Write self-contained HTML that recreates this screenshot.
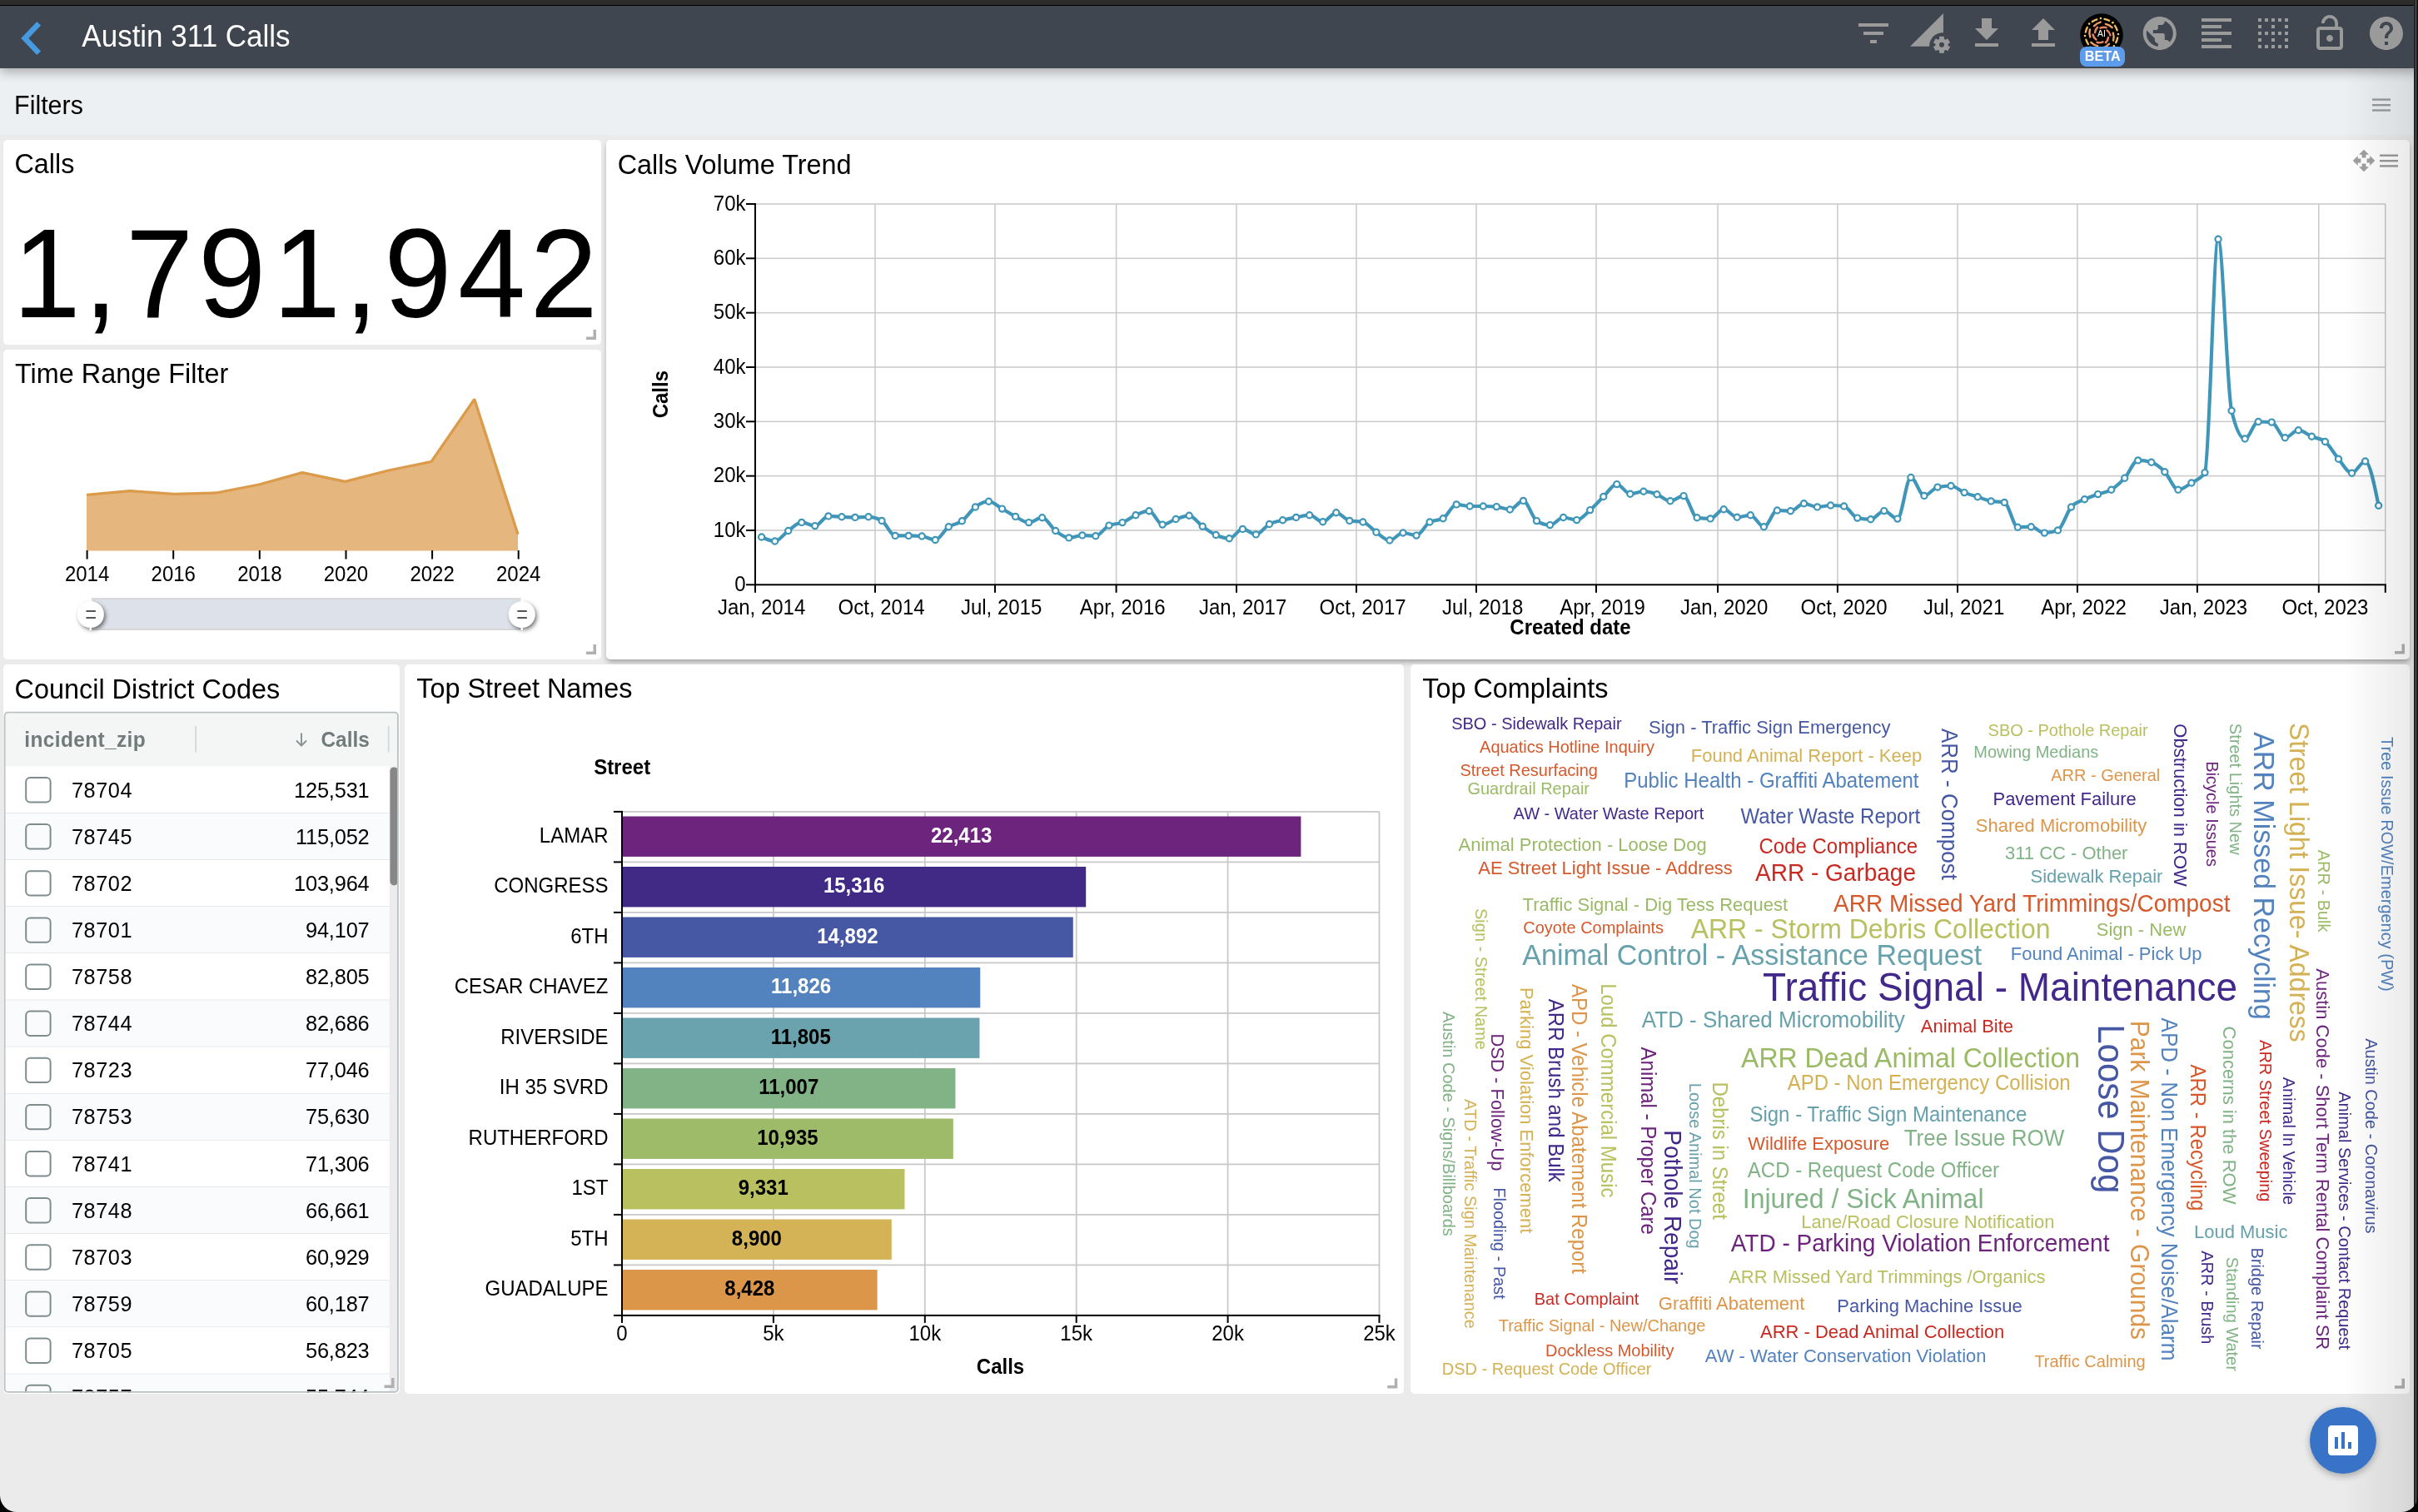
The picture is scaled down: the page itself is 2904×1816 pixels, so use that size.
<!DOCTYPE html><html><head><meta charset="utf-8"><title>Austin 311 Calls</title><style>
*{box-sizing:border-box;margin:0;padding:0}
html,body{width:2904px;height:1816px;overflow:hidden;background:#ebebeb;font-family:"Liberation Sans", sans-serif}
.abs{position:absolute}
.card{position:absolute;background:#fff;border-radius:5px}
svg text{font-family:"Liberation Sans", sans-serif}
</style></head><body>
<div class="abs" style="left:0;top:0;width:2904px;height:7px;background:#2f2c2d;border-bottom:1px solid #000"></div>
<div class="abs" style="left:0;top:82px;width:2904px;height:80px;background:#edf0f3"></div>
<div class="abs" style="left:0;top:7px;width:2904px;height:75px;background:#3f4650;box-shadow:0 5px 12px rgba(0,0,0,0.28)"></div>
<div class="card" style="left:4px;top:168px;width:718px;height:246px"></div>
<div class="card" style="left:4px;top:420px;width:718px;height:372px"></div>
<div class="card" style="left:728px;top:168px;width:2166px;height:624px;box-shadow:0 4px 6px -1px rgba(0,0,0,0.32)"></div>
<div class="card" style="left:4px;top:798px;width:476px;height:875.5999999999999px"></div>
<div class="card" style="left:486px;top:798px;width:1200px;height:875.5999999999999px"></div>
<div class="card" style="left:1694.4px;top:798px;width:1199.6px;height:875.5999999999999px"></div>
<svg class="abs" style="left:0;top:0;will-change:transform" width="2904" height="1816" xmlns="http://www.w3.org/2000/svg">
<polyline points="46.7,28.2 29.8,46 46.7,63.8" fill="none" stroke="#469be0" stroke-width="6.6" stroke-linecap="butt" stroke-linejoin="miter"/>
<text transform="translate(98.33,56.00) scale(1,1.042)" font-size="35" fill="#fff">Austin 311 Calls</text>
<path transform="translate(2226,16) scale(2)" d="M10 18h4v-2h-4v2zM3 6v2h18V6H3zm3 7h12v-2H6v2z" fill="#9a9a9a"/>
<path d="M2294.1,55.8 L2334,16 L2334,39.2 A16,16 0 0 0 2317.1,55.8 Z" fill="#9a9a9a"/>
<g><rect x="2329.1" y="43.8" width="5.8" height="6" transform="rotate(0 2332 53.8)" fill="#9a9a9a"/><rect x="2329.1" y="43.8" width="5.8" height="6" transform="rotate(60 2332 53.8)" fill="#9a9a9a"/><rect x="2329.1" y="43.8" width="5.8" height="6" transform="rotate(120 2332 53.8)" fill="#9a9a9a"/><rect x="2329.1" y="43.8" width="5.8" height="6" transform="rotate(180 2332 53.8)" fill="#9a9a9a"/><rect x="2329.1" y="43.8" width="5.8" height="6" transform="rotate(240 2332 53.8)" fill="#9a9a9a"/><rect x="2329.1" y="43.8" width="5.8" height="6" transform="rotate(300 2332 53.8)" fill="#9a9a9a"/><circle cx="2332" cy="53.8" r="7.6" fill="#9a9a9a"/><circle cx="2332" cy="53.8" r="3" fill="#3f4650"/></g>
<path transform="translate(2362,16) scale(2)" d="M19 9h-4V3H9v6H5l7 7 7-7zM5 18v2h14v-2H5z" fill="#9a9a9a"/>
<path transform="translate(2430,16) scale(2)" d="M9 16h6v-6h4l-7-7-7 7h4v6zm-4 2h14v2H5v-2z" fill="#9a9a9a"/>
<circle cx="2524" cy="42" r="25.8" fill="#000"/>
<g><path d="M2522.52,33.63 A9.50,9.50 0 0 1 2529.56,33.10" stroke="#e8845f" stroke-width="2.5" fill="none" stroke-linecap="round"/><path d="M2530.51,36.54 A9.50,9.50 0 0 1 2534.49,42.37" stroke="#e8845f" stroke-width="2.5" fill="none" stroke-linecap="round"/><path d="M2531.99,44.91 A9.50,9.50 0 0 1 2528.93,51.27" stroke="#e8845f" stroke-width="2.5" fill="none" stroke-linecap="round"/><path d="M2525.48,50.37 A9.50,9.50 0 0 1 2518.44,50.90" stroke="#e8845f" stroke-width="2.5" fill="none" stroke-linecap="round"/><path d="M2517.49,47.46 A9.50,9.50 0 0 1 2513.51,41.63" stroke="#e8845f" stroke-width="2.5" fill="none" stroke-linecap="round"/><path d="M2516.01,39.09 A9.50,9.50 0 0 1 2519.07,32.73" stroke="#e8845f" stroke-width="2.5" fill="none" stroke-linecap="round"/><path d="M2528.79,28.84 A14.75,14.75 0 0 1 2536.70,33.11" stroke="#eda066" stroke-width="2.4" fill="none" stroke-linecap="round"/><path d="M2537.79,39.57 A14.75,14.75 0 0 1 2538.05,48.55" stroke="#eda066" stroke-width="2.4" fill="none" stroke-linecap="round"/><path d="M2533.00,52.72 A14.75,14.75 0 0 1 2525.35,57.44" stroke="#eda066" stroke-width="2.4" fill="none" stroke-linecap="round"/><path d="M2519.21,55.16 A14.75,14.75 0 0 1 2511.30,50.89" stroke="#eda066" stroke-width="2.4" fill="none" stroke-linecap="round"/><path d="M2510.21,44.43 A14.75,14.75 0 0 1 2509.95,35.45" stroke="#eda066" stroke-width="2.4" fill="none" stroke-linecap="round"/><path d="M2515.00,31.28 A14.75,14.75 0 0 1 2522.65,26.56" stroke="#eda066" stroke-width="2.4" fill="none" stroke-linecap="round"/><path d="M2527.39,22.80 A19.50,19.50 0 0 1 2533.15,24.78" stroke="#f2bd69" stroke-width="2.3" fill="none" stroke-linecap="round"/><circle cx="2537.38" cy="27.14" r="1.3" fill="#f5c96e"/><path d="M2539.97,30.82 A19.50,19.50 0 0 1 2542.65,36.30" stroke="#f2bd69" stroke-width="2.3" fill="none" stroke-linecap="round"/><circle cx="2543.97" cy="40.95" r="1.3" fill="#f5c96e"/><path d="M2543.20,45.39 A19.50,19.50 0 0 1 2541.22,51.15" stroke="#f2bd69" stroke-width="2.3" fill="none" stroke-linecap="round"/><circle cx="2538.86" cy="55.38" r="1.3" fill="#f5c96e"/><path d="M2535.18,57.97 A19.50,19.50 0 0 1 2529.70,60.65" stroke="#f2bd69" stroke-width="2.3" fill="none" stroke-linecap="round"/><circle cx="2525.05" cy="61.97" r="1.3" fill="#f5c96e"/><path d="M2520.61,61.20 A19.50,19.50 0 0 1 2514.85,59.22" stroke="#f2bd69" stroke-width="2.3" fill="none" stroke-linecap="round"/><circle cx="2510.62" cy="56.86" r="1.3" fill="#f5c96e"/><path d="M2508.03,53.18 A19.50,19.50 0 0 1 2505.35,47.70" stroke="#f2bd69" stroke-width="2.3" fill="none" stroke-linecap="round"/><circle cx="2504.03" cy="43.05" r="1.3" fill="#f5c96e"/><path d="M2504.80,38.61 A19.50,19.50 0 0 1 2506.78,32.85" stroke="#f2bd69" stroke-width="2.3" fill="none" stroke-linecap="round"/><circle cx="2509.14" cy="28.62" r="1.3" fill="#f5c96e"/><path d="M2512.82,26.03 A19.50,19.50 0 0 1 2518.30,23.35" stroke="#f2bd69" stroke-width="2.3" fill="none" stroke-linecap="round"/><circle cx="2522.95" cy="22.03" r="1.3" fill="#f5c96e"/></g>
<text transform="translate(2524.00,44.20) scale(1,1.042)" font-size="10.5" fill="#fff" text-anchor="middle">AI</text>
<rect x="2498" y="56" width="54" height="24" rx="8" fill="#5d9bec"/>
<text transform="translate(2525.30,72.80) scale(1,1.042)" font-size="16.2" fill="#fff" font-weight="bold" text-anchor="middle">BETA</text>
<path transform="translate(2569.8,16) scale(2)" d="M12 2C6.48 2 2 6.48 2 12s4.48 10 10 10 10-4.48 10-10S17.52 2 12 2zm-1 17.93c-3.95-.49-7-3.850-7-7.93 0-.62.08-1.21.21-1.79L9 15v1c0 1.1.9 2 2 2v1.93zm6.9-2.54c-.26-.81-1-1.39-1.9-1.39h-1v-3c0-.55-.45-1-1-1H8v-2h2c.55 0 1-.45 1-1V7h2c1.1 0 2-.9 2-2v-.41c2.930 1.19 5 4.06 5 7.41 0 2.080-.8 3.970-2.1 5.39z" fill="#9a9a9a"/>
<path transform="translate(2638,16) scale(2)" d="M15 15H3v2h12v-2zm0-8H3v2h12V7zM3 13h18v-2H3v2zm0 8h18v-2H3v2zM3 3v2h18V3H3z" fill="#9a9a9a"/>
<path transform="translate(2706,16) scale(2)" d="M7 5h2V3H7v2zm0 8h2v-2H7v2zm0 8h2v-2H7v2zm4-4h2v-2h-2v2zm0 4h2v-2h-2v2zm-8 0h2v-2H3v2zm0-4h2v-2H3v2zm0-4h2v-2H3v2zm0-4h2V7H3v2zm0-4h2V3H3v2zm8 8h2v-2h-2v2zm8 4h2v-2h-2v2zm0-4h2v-2h-2v2zm0 8h2v-2h-2v2zm0-12h2V7h-2v2zm-8 0h2V7h-2v2zm8-6v2h2V3h-2zm-8 2h2V3h-2v2zm4 16h2v-2h-2v2zm0-8h2v-2h-2v2zm0-8h2V3h-2v2z" fill="#9a9a9a"/>
<path transform="translate(2774,16) scale(2)" d="M12 17c1.1 0 2-.9 2-2s-.9-2-2-2-2 .9-2 2 .9 2 2 2zm6-9h-1V6c0-2.76-2.24-5-5-5S7 3.24 7 6h1.9c0-1.71 1.39-3.1 3.1-3.1 1.71 0 3.1 1.39 3.1 3.1v2H6c-1.1 0-2 .9-2 2v10c0 1.1.9 2 2 2h12c1.1 0 2-.9 2-2V10c0-1.1-.9-2-2-2zm0 12H6V10h12v10z" fill="#9a9a9a"/>
<path transform="translate(2842,16) scale(2)" d="M12 2C6.48 2 2 6.48 2 12s4.48 10 10 10 10-4.48 10-10S17.52 2 12 2zm1 17h-2v-2h2v2zm2.07-7.75l-.9.92C13.45 12.9 13 13.5 13 15h-2v-.5c0-1.1.45-2.1 1.17-2.83l1.24-1.26c.37-.36.59-.86.59-1.41 0-1.1-.9-2-2-2s-2 .9-2 2H8c0-2.21 1.79-4 4-4s4 1.79 4 4c0 .88-.36 1.68-.93 2.25z" fill="#9a9a9a"/>
<text transform="translate(17.11,137.00) scale(1,1.042)" font-size="30.4" fill="#000">Filters</text>
<rect x="2849" y="118.4" width="22" height="2.4" fill="#9b9b9b"/>
<rect x="2849" y="125" width="22" height="2.4" fill="#9b9b9b"/>
<rect x="2849" y="131.3" width="22" height="2.4" fill="#9b9b9b"/>
<text transform="translate(17.38,208.00) scale(1,1.042)" font-size="32.4" fill="#000">Calls</text>
<text transform="translate(17.99,460.00) scale(1,1.042)" font-size="32.4" fill="#000">Time Range Filter</text>
<text transform="translate(741.68,208.50) scale(1,1.042)" font-size="32.4" fill="#000">Calls Volume Trend</text>
<text transform="translate(17.58,838.50) scale(1,1.042)" font-size="32.4" fill="#000">Council District Codes</text>
<text transform="translate(500.29,838.20) scale(1,1.042)" font-size="32.4" fill="#000">Top Street Names</text>
<text transform="translate(1708.19,838.00) scale(1,1.042)" font-size="32.4" fill="#000">Top Complaints</text>
<path transform="translate(2824.6,178.6) scale(1.2)" d="M10 9h4V6h3l-5-5-5 5h3v3zm-1 1H6V7l-5 5 5 5v-3h3v-4zm14 2l-5-5v3h-3v4h3v3l5-5zm-9 3h-4v3H7l5 5 5-5h-3v-3z" fill="#a0a0a0"/>
<rect x="2858" y="185.5" width="22" height="2.4" fill="#9b9b9b"/>
<rect x="2858" y="192" width="22" height="2.4" fill="#9b9b9b"/>
<rect x="2858" y="198.2" width="22" height="2.4" fill="#9b9b9b"/>
<text transform="translate(15.62,380.90) scale(1,1.042)" font-size="146" fill="#000">1</text>
<text transform="translate(100.78,380.90) scale(1,1.042)" font-size="146" fill="#000">,</text>
<text transform="translate(150.94,380.90) scale(1,1.042)" font-size="146" fill="#000">7</text>
<text transform="translate(237.99,380.90) scale(1,1.042)" font-size="146" fill="#000">9</text>
<text transform="translate(327.77,380.90) scale(1,1.042)" font-size="146" fill="#000">1</text>
<text transform="translate(413.48,380.90) scale(1,1.042)" font-size="146" fill="#000">,</text>
<text transform="translate(461.19,380.90) scale(1,1.042)" font-size="146" fill="#000">9</text>
<text transform="translate(549.92,380.90) scale(1,1.042)" font-size="146" fill="#000">4</text>
<text transform="translate(636.41,380.90) scale(1,1.042)" font-size="146" fill="#000">2</text>
<path d="M104,661.6 L104.0,594.3 L156.0,589.7 L209.0,593.4 L259.5,592.0 L311.0,582.0 L363.0,567.7 L414.6,578.4 L466.6,565.0 L518.0,554.5 L569.8,479.5 L622.0,641.7 L622,661.6 Z" fill="#e5b67e"/>
<path d="M104.0,594.3 L156.0,589.7 L209.0,593.4 L259.5,592.0 L311.0,582.0 L363.0,567.7 L414.6,578.4 L466.6,565.0 L518.0,554.5 L569.8,479.5 L622.0,641.7" fill="none" stroke="#dc9b4b" stroke-width="3.3" stroke-linejoin="bevel"/>
<rect x="103.6" y="661" width="2" height="10.5" fill="#000"/>
<text transform="translate(104.60,697.70) scale(1,1.042)" font-size="24" fill="#000" text-anchor="middle">2014</text>
<rect x="207.2" y="661" width="2" height="10.5" fill="#000"/>
<text transform="translate(208.22,697.70) scale(1,1.042)" font-size="24" fill="#000" text-anchor="middle">2016</text>
<rect x="310.8" y="661" width="2" height="10.5" fill="#000"/>
<text transform="translate(311.84,697.70) scale(1,1.042)" font-size="24" fill="#000" text-anchor="middle">2018</text>
<rect x="414.5" y="661" width="2" height="10.5" fill="#000"/>
<text transform="translate(415.46,697.70) scale(1,1.042)" font-size="24" fill="#000" text-anchor="middle">2020</text>
<rect x="518.1" y="661" width="2" height="10.5" fill="#000"/>
<text transform="translate(519.08,697.70) scale(1,1.042)" font-size="24" fill="#000" text-anchor="middle">2022</text>
<rect x="621.7" y="661" width="2" height="10.5" fill="#000"/>
<text transform="translate(622.70,697.70) scale(1,1.042)" font-size="24" fill="#000" text-anchor="middle">2024</text>
<rect x="109" y="718.3" width="517.7" height="38.6" fill="#dde1e9"/>
<rect x="109" y="718.3" width="517.7" height="1.8" fill="#d6d6d6"/>
<rect x="109" y="755.1" width="517.7" height="1.8" fill="#d6d6d6"/>
<defs><filter id="hs" x="-50%" y="-50%" width="200%" height="200%"><feDropShadow dx="2" dy="2.5" stdDeviation="2.6" flood-color="#000" flood-opacity="0.55"/></filter></defs>
<circle cx="108.8" cy="738.1" r="15.9" fill="#fff" filter="url(#hs)"/>
<rect x="107.6" y="718.3" width="2.4" height="38.6" fill="#fff"/>
<rect x="103.5" y="733" width="11.4" height="2" fill="#555"/>
<rect x="103.5" y="741" width="11.4" height="2" fill="#555"/>
<circle cx="626.7" cy="738.1" r="15.9" fill="#fff" filter="url(#hs)"/>
<rect x="625.5" y="718.3" width="2.4" height="38.6" fill="#fff"/>
<rect x="621.4000000000001" y="733" width="11.4" height="2" fill="#555"/>
<rect x="621.4000000000001" y="741" width="11.4" height="2" fill="#555"/>
<rect x="896" y="701.30" width="11" height="2" fill="#000"/>
<text transform="translate(895.50,709.90) scale(1,1.042)" font-size="24" fill="#000" text-anchor="end">0</text>
<rect x="907.0" y="636.22" width="1957.8" height="1.5" fill="#c9c9c9"/>
<rect x="896" y="635.97" width="11" height="2" fill="#000"/>
<text transform="translate(895.50,644.57) scale(1,1.042)" font-size="24" fill="#000" text-anchor="end">10k</text>
<rect x="907.0" y="570.89" width="1957.8" height="1.5" fill="#c9c9c9"/>
<rect x="896" y="570.64" width="11" height="2" fill="#000"/>
<text transform="translate(895.50,579.24) scale(1,1.042)" font-size="24" fill="#000" text-anchor="end">20k</text>
<rect x="907.0" y="505.56" width="1957.8" height="1.5" fill="#c9c9c9"/>
<rect x="896" y="505.31" width="11" height="2" fill="#000"/>
<text transform="translate(895.50,513.91) scale(1,1.042)" font-size="24" fill="#000" text-anchor="end">30k</text>
<rect x="907.0" y="440.23" width="1957.8" height="1.5" fill="#c9c9c9"/>
<rect x="896" y="439.98" width="11" height="2" fill="#000"/>
<text transform="translate(895.50,448.58) scale(1,1.042)" font-size="24" fill="#000" text-anchor="end">40k</text>
<rect x="907.0" y="374.90" width="1957.8" height="1.5" fill="#c9c9c9"/>
<rect x="896" y="374.65" width="11" height="2" fill="#000"/>
<text transform="translate(895.50,383.25) scale(1,1.042)" font-size="24" fill="#000" text-anchor="end">50k</text>
<rect x="907.0" y="309.57" width="1957.8" height="1.5" fill="#c9c9c9"/>
<rect x="896" y="309.32" width="11" height="2" fill="#000"/>
<text transform="translate(895.50,317.92) scale(1,1.042)" font-size="24" fill="#000" text-anchor="end">60k</text>
<rect x="907.0" y="244.24" width="1957.8" height="1.5" fill="#c9c9c9"/>
<rect x="896" y="243.99" width="11" height="2" fill="#000"/>
<text transform="translate(895.50,252.59) scale(1,1.042)" font-size="24" fill="#000" text-anchor="end">70k</text>
<rect x="906.00" y="702.3" width="2" height="9.5" fill="#000"/>
<text transform="translate(914.60,738.00) scale(1,1.042)" font-size="24" fill="#000" text-anchor="middle">Jan, 2014</text>
<rect x="1050.25" y="244.99" width="1.5" height="457.31" fill="#c9c9c9"/>
<rect x="1050.00" y="702.3" width="2" height="9.5" fill="#000"/>
<text transform="translate(1058.60,738.00) scale(1,1.042)" font-size="24" fill="#000" text-anchor="middle">Oct, 2014</text>
<rect x="1194.25" y="244.99" width="1.5" height="457.31" fill="#c9c9c9"/>
<rect x="1194.00" y="702.3" width="2" height="9.5" fill="#000"/>
<text transform="translate(1202.60,738.00) scale(1,1.042)" font-size="24" fill="#000" text-anchor="middle">Jul, 2015</text>
<rect x="1339.85" y="244.99" width="1.5" height="457.31" fill="#c9c9c9"/>
<rect x="1339.60" y="702.3" width="2" height="9.5" fill="#000"/>
<text transform="translate(1348.20,738.00) scale(1,1.042)" font-size="24" fill="#000" text-anchor="middle">Apr, 2016</text>
<rect x="1484.25" y="244.99" width="1.5" height="457.31" fill="#c9c9c9"/>
<rect x="1484.00" y="702.3" width="2" height="9.5" fill="#000"/>
<text transform="translate(1492.60,738.00) scale(1,1.042)" font-size="24" fill="#000" text-anchor="middle">Jan, 2017</text>
<rect x="1628.25" y="244.99" width="1.5" height="457.31" fill="#c9c9c9"/>
<rect x="1628.00" y="702.3" width="2" height="9.5" fill="#000"/>
<text transform="translate(1636.60,738.00) scale(1,1.042)" font-size="24" fill="#000" text-anchor="middle">Oct, 2017</text>
<rect x="1772.25" y="244.99" width="1.5" height="457.31" fill="#c9c9c9"/>
<rect x="1772.00" y="702.3" width="2" height="9.5" fill="#000"/>
<text transform="translate(1780.60,738.00) scale(1,1.042)" font-size="24" fill="#000" text-anchor="middle">Jul, 2018</text>
<rect x="1916.25" y="244.99" width="1.5" height="457.31" fill="#c9c9c9"/>
<rect x="1916.00" y="702.3" width="2" height="9.5" fill="#000"/>
<text transform="translate(1924.60,738.00) scale(1,1.042)" font-size="24" fill="#000" text-anchor="middle">Apr, 2019</text>
<rect x="2062.25" y="244.99" width="1.5" height="457.31" fill="#c9c9c9"/>
<rect x="2062.00" y="702.3" width="2" height="9.5" fill="#000"/>
<text transform="translate(2070.60,738.00) scale(1,1.042)" font-size="24" fill="#000" text-anchor="middle">Jan, 2020</text>
<rect x="2206.15" y="244.99" width="1.5" height="457.31" fill="#c9c9c9"/>
<rect x="2205.90" y="702.3" width="2" height="9.5" fill="#000"/>
<text transform="translate(2214.50,738.00) scale(1,1.042)" font-size="24" fill="#000" text-anchor="middle">Oct, 2020</text>
<rect x="2350.25" y="244.99" width="1.5" height="457.31" fill="#c9c9c9"/>
<rect x="2350.00" y="702.3" width="2" height="9.5" fill="#000"/>
<text transform="translate(2358.60,738.00) scale(1,1.042)" font-size="24" fill="#000" text-anchor="middle">Jul, 2021</text>
<rect x="2494.15" y="244.99" width="1.5" height="457.31" fill="#c9c9c9"/>
<rect x="2493.90" y="702.3" width="2" height="9.5" fill="#000"/>
<text transform="translate(2502.50,738.00) scale(1,1.042)" font-size="24" fill="#000" text-anchor="middle">Apr, 2022</text>
<rect x="2638.15" y="244.99" width="1.5" height="457.31" fill="#c9c9c9"/>
<rect x="2637.90" y="702.3" width="2" height="9.5" fill="#000"/>
<text transform="translate(2646.50,738.00) scale(1,1.042)" font-size="24" fill="#000" text-anchor="middle">Jan, 2023</text>
<rect x="2784.05" y="244.99" width="1.5" height="457.31" fill="#c9c9c9"/>
<rect x="2783.80" y="702.3" width="2" height="9.5" fill="#000"/>
<text transform="translate(2792.40,738.00) scale(1,1.042)" font-size="24" fill="#000" text-anchor="middle">Oct, 2023</text>
<rect x="2864.05" y="244.99" width="1.5" height="457.31" fill="#c9c9c9"/>
<rect x="2863.80" y="702.3" width="2" height="9.5" fill="#000"/>
<rect x="906.0" y="243.99" width="2" height="458.81" fill="#000"/>
<rect x="906.0" y="701.30" width="1959.8" height="2" fill="#000"/>
<text transform="translate(1886.00,761.70) scale(1,1.042)" font-size="24" fill="#000" font-weight="bold" text-anchor="middle">Created date</text>
<text transform="translate(801.8,473.7) rotate(-90) scale(1,1.042)" x="0" y="0" font-size="24" font-weight="bold" text-anchor="middle" fill="#000">Calls</text>
<path d="M914.60,645.00 C919.95,647.50 925.30,650.00 930.65,650.00 C936.00,650.00 941.35,641.27 946.70,637.50 C952.05,633.73 957.40,627.40 962.75,627.40 C968.10,627.40 973.45,631.60 978.80,631.60 C984.15,631.60 989.50,619.90 994.85,619.90 C1000.20,619.90 1005.55,620.55 1010.90,620.80 C1016.25,621.05 1021.60,621.40 1026.95,621.40 C1032.30,621.40 1037.65,620.80 1043.00,620.80 C1048.35,620.80 1053.70,622.33 1059.05,625.40 C1064.40,628.47 1069.75,643.40 1075.10,643.40 C1080.45,643.40 1085.80,643.40 1091.15,643.40 C1096.50,643.40 1101.85,643.60 1107.20,644.00 C1112.55,644.40 1117.90,648.50 1123.25,648.50 C1128.60,648.50 1133.95,636.58 1139.30,632.80 C1144.65,629.02 1150.00,629.77 1155.35,625.80 C1160.70,621.83 1166.05,612.93 1171.40,609.00 C1176.75,605.07 1182.10,602.20 1187.45,602.20 C1192.80,602.20 1198.15,608.07 1203.50,611.10 C1208.85,614.13 1214.20,617.65 1219.55,620.40 C1224.90,623.15 1230.25,627.60 1235.60,627.60 C1240.95,627.60 1246.30,621.70 1251.65,621.70 C1257.00,621.70 1262.35,633.47 1267.70,637.50 C1273.05,641.53 1278.40,645.90 1283.75,645.90 C1289.10,645.90 1294.45,642.90 1299.80,642.90 C1305.15,642.90 1310.50,643.70 1315.85,643.70 C1321.20,643.70 1326.55,633.43 1331.90,631.10 C1337.25,628.77 1342.60,629.67 1347.95,627.60 C1353.30,625.53 1358.65,621.02 1364.00,618.70 C1369.35,616.38 1374.70,613.70 1380.05,613.70 C1385.40,613.70 1390.75,630.10 1396.10,630.10 C1401.45,630.10 1406.80,625.30 1412.15,623.50 C1417.50,621.70 1422.85,619.30 1428.20,619.30 C1433.55,619.30 1438.90,628.43 1444.25,632.30 C1449.60,636.17 1454.95,640.08 1460.30,642.50 C1465.65,644.92 1471.00,646.80 1476.35,646.80 C1481.70,646.80 1487.05,635.40 1492.40,635.40 C1497.75,635.40 1503.10,641.90 1508.45,641.90 C1513.80,641.90 1519.15,632.35 1524.50,629.50 C1529.85,626.65 1535.20,626.15 1540.55,624.80 C1545.90,623.45 1551.25,622.42 1556.60,621.40 C1561.95,620.38 1567.30,618.70 1572.65,618.70 C1578.00,618.70 1583.35,626.70 1588.70,626.70 C1594.05,626.70 1599.40,615.80 1604.75,615.80 C1610.10,615.80 1615.45,624.33 1620.80,625.40 C1626.15,626.47 1631.50,625.93 1636.85,627.00 C1642.20,628.07 1647.55,635.53 1652.90,639.20 C1658.25,642.87 1663.60,649.00 1668.95,649.00 C1674.30,649.00 1679.65,640.00 1685.00,640.00 C1690.35,640.00 1695.70,643.10 1701.05,643.10 C1706.40,643.10 1711.75,629.87 1717.10,627.00 C1722.45,624.13 1727.80,625.57 1733.15,622.70 C1738.50,619.83 1743.85,605.90 1749.20,605.90 C1754.55,605.90 1759.90,608.00 1765.25,608.00 C1770.60,608.00 1775.95,608.00 1781.30,608.00 C1786.65,608.00 1792.00,608.20 1797.35,608.60 C1802.70,609.00 1808.05,612.00 1813.40,612.00 C1818.75,612.00 1824.10,601.40 1829.45,601.40 C1834.80,601.40 1840.15,622.27 1845.50,625.60 C1850.85,628.93 1856.20,630.60 1861.55,630.60 C1866.90,630.60 1872.25,621.50 1877.60,621.50 C1882.95,621.50 1888.30,624.60 1893.65,624.60 C1899.00,624.60 1904.35,617.28 1909.70,612.60 C1915.05,607.92 1920.40,601.67 1925.75,596.50 C1931.10,591.33 1936.45,581.60 1941.80,581.60 C1947.15,581.60 1952.50,593.30 1957.85,593.30 C1963.20,593.30 1968.55,590.20 1973.90,590.20 C1979.25,590.20 1984.60,591.78 1989.95,593.70 C1995.30,595.62 2000.65,601.70 2006.00,601.70 C2011.35,601.70 2016.70,595.60 2022.05,595.60 C2027.40,595.60 2032.75,621.07 2038.10,621.80 C2043.45,622.53 2048.80,622.90 2054.15,622.90 C2059.50,622.90 2064.85,611.70 2070.20,611.70 C2075.55,611.70 2080.90,621.30 2086.25,621.30 C2091.60,621.30 2096.95,618.80 2102.30,618.80 C2107.65,618.80 2113.00,632.80 2118.35,632.80 C2123.70,632.80 2129.05,613.00 2134.40,613.00 C2139.75,613.00 2145.10,613.80 2150.45,613.80 C2155.80,613.80 2161.15,604.80 2166.50,604.80 C2171.85,604.80 2177.20,608.90 2182.55,608.90 C2187.90,608.90 2193.25,607.00 2198.60,607.00 C2203.95,607.00 2209.30,607.33 2214.65,608.00 C2220.00,608.67 2225.35,621.03 2230.70,622.10 C2236.05,623.17 2241.40,623.70 2246.75,623.70 C2252.10,623.70 2257.45,613.60 2262.80,613.60 C2268.15,613.60 2273.50,623.10 2278.85,623.10 C2284.20,623.10 2289.55,573.50 2294.90,573.50 C2300.25,573.50 2305.60,595.40 2310.95,595.40 C2316.30,595.40 2321.65,586.17 2327.00,585.10 C2332.35,584.03 2337.70,583.50 2343.05,583.50 C2348.40,583.50 2353.75,589.40 2359.10,591.60 C2364.45,593.80 2369.80,594.98 2375.15,596.70 C2380.50,598.42 2385.85,600.83 2391.20,601.90 C2396.55,602.97 2401.90,602.43 2407.25,603.50 C2412.60,604.57 2417.95,633.20 2423.30,633.20 C2428.65,633.20 2434.00,632.70 2439.35,632.70 C2444.70,632.70 2450.05,640.10 2455.40,640.10 C2460.75,640.10 2466.10,639.03 2471.45,636.90 C2476.80,634.77 2482.15,615.13 2487.50,609.00 C2492.85,602.87 2498.20,602.37 2503.55,599.80 C2508.90,597.23 2514.25,595.53 2519.60,593.60 C2524.95,591.67 2530.30,591.43 2535.65,588.20 C2541.00,584.97 2546.35,580.08 2551.70,574.20 C2557.05,568.32 2562.40,552.90 2567.75,552.90 C2573.10,552.90 2578.45,553.70 2583.80,555.30 C2589.15,556.90 2594.50,561.22 2599.85,566.70 C2605.20,572.18 2610.55,588.20 2615.90,588.20 C2621.25,588.20 2626.60,583.43 2631.95,580.00 C2637.30,576.57 2642.65,575.87 2648.00,567.60 C2653.35,559.33 2658.70,287.20 2664.05,287.20 C2669.40,287.20 2674.75,470.83 2680.10,493.30 C2685.45,515.77 2690.80,527.00 2696.15,527.00 C2701.50,527.00 2706.85,506.50 2712.20,506.50 C2717.55,506.50 2722.90,506.70 2728.25,507.10 C2733.60,507.50 2738.95,525.80 2744.30,525.80 C2749.65,525.80 2755.00,516.70 2760.35,516.70 C2765.70,516.70 2771.05,522.00 2776.40,524.30 C2781.75,526.60 2787.10,526.37 2792.45,530.50 C2797.80,534.63 2803.15,544.92 2808.50,551.20 C2813.85,557.48 2819.20,568.20 2824.55,568.20 C2829.90,568.20 2835.25,554.00 2840.60,554.00 C2845.95,554.00 2851.30,580.65 2856.65,607.30" fill="none" stroke="#4096b8" stroke-width="4.2" stroke-linejoin="round"/>
<g fill="#fff" stroke="#4096b8" stroke-width="2.2"><circle cx="914.60" cy="645.00" r="3.6"/><circle cx="930.65" cy="650.00" r="3.6"/><circle cx="946.70" cy="637.50" r="3.6"/><circle cx="962.75" cy="627.40" r="3.6"/><circle cx="978.80" cy="631.60" r="3.6"/><circle cx="994.85" cy="619.90" r="3.6"/><circle cx="1010.90" cy="620.80" r="3.6"/><circle cx="1026.95" cy="621.40" r="3.6"/><circle cx="1043.00" cy="620.80" r="3.6"/><circle cx="1059.05" cy="625.40" r="3.6"/><circle cx="1075.10" cy="643.40" r="3.6"/><circle cx="1091.15" cy="643.40" r="3.6"/><circle cx="1107.20" cy="644.00" r="3.6"/><circle cx="1123.25" cy="648.50" r="3.6"/><circle cx="1139.30" cy="632.80" r="3.6"/><circle cx="1155.35" cy="625.80" r="3.6"/><circle cx="1171.40" cy="609.00" r="3.6"/><circle cx="1187.45" cy="602.20" r="3.6"/><circle cx="1203.50" cy="611.10" r="3.6"/><circle cx="1219.55" cy="620.40" r="3.6"/><circle cx="1235.60" cy="627.60" r="3.6"/><circle cx="1251.65" cy="621.70" r="3.6"/><circle cx="1267.70" cy="637.50" r="3.6"/><circle cx="1283.75" cy="645.90" r="3.6"/><circle cx="1299.80" cy="642.90" r="3.6"/><circle cx="1315.85" cy="643.70" r="3.6"/><circle cx="1331.90" cy="631.10" r="3.6"/><circle cx="1347.95" cy="627.60" r="3.6"/><circle cx="1364.00" cy="618.70" r="3.6"/><circle cx="1380.05" cy="613.70" r="3.6"/><circle cx="1396.10" cy="630.10" r="3.6"/><circle cx="1412.15" cy="623.50" r="3.6"/><circle cx="1428.20" cy="619.30" r="3.6"/><circle cx="1444.25" cy="632.30" r="3.6"/><circle cx="1460.30" cy="642.50" r="3.6"/><circle cx="1476.35" cy="646.80" r="3.6"/><circle cx="1492.40" cy="635.40" r="3.6"/><circle cx="1508.45" cy="641.90" r="3.6"/><circle cx="1524.50" cy="629.50" r="3.6"/><circle cx="1540.55" cy="624.80" r="3.6"/><circle cx="1556.60" cy="621.40" r="3.6"/><circle cx="1572.65" cy="618.70" r="3.6"/><circle cx="1588.70" cy="626.70" r="3.6"/><circle cx="1604.75" cy="615.80" r="3.6"/><circle cx="1620.80" cy="625.40" r="3.6"/><circle cx="1636.85" cy="627.00" r="3.6"/><circle cx="1652.90" cy="639.20" r="3.6"/><circle cx="1668.95" cy="649.00" r="3.6"/><circle cx="1685.00" cy="640.00" r="3.6"/><circle cx="1701.05" cy="643.10" r="3.6"/><circle cx="1717.10" cy="627.00" r="3.6"/><circle cx="1733.15" cy="622.70" r="3.6"/><circle cx="1749.20" cy="605.90" r="3.6"/><circle cx="1765.25" cy="608.00" r="3.6"/><circle cx="1781.30" cy="608.00" r="3.6"/><circle cx="1797.35" cy="608.60" r="3.6"/><circle cx="1813.40" cy="612.00" r="3.6"/><circle cx="1829.45" cy="601.40" r="3.6"/><circle cx="1845.50" cy="625.60" r="3.6"/><circle cx="1861.55" cy="630.60" r="3.6"/><circle cx="1877.60" cy="621.50" r="3.6"/><circle cx="1893.65" cy="624.60" r="3.6"/><circle cx="1909.70" cy="612.60" r="3.6"/><circle cx="1925.75" cy="596.50" r="3.6"/><circle cx="1941.80" cy="581.60" r="3.6"/><circle cx="1957.85" cy="593.30" r="3.6"/><circle cx="1973.90" cy="590.20" r="3.6"/><circle cx="1989.95" cy="593.70" r="3.6"/><circle cx="2006.00" cy="601.70" r="3.6"/><circle cx="2022.05" cy="595.60" r="3.6"/><circle cx="2038.10" cy="621.80" r="3.6"/><circle cx="2054.15" cy="622.90" r="3.6"/><circle cx="2070.20" cy="611.70" r="3.6"/><circle cx="2086.25" cy="621.30" r="3.6"/><circle cx="2102.30" cy="618.80" r="3.6"/><circle cx="2118.35" cy="632.80" r="3.6"/><circle cx="2134.40" cy="613.00" r="3.6"/><circle cx="2150.45" cy="613.80" r="3.6"/><circle cx="2166.50" cy="604.80" r="3.6"/><circle cx="2182.55" cy="608.90" r="3.6"/><circle cx="2198.60" cy="607.00" r="3.6"/><circle cx="2214.65" cy="608.00" r="3.6"/><circle cx="2230.70" cy="622.10" r="3.6"/><circle cx="2246.75" cy="623.70" r="3.6"/><circle cx="2262.80" cy="613.60" r="3.6"/><circle cx="2278.85" cy="623.10" r="3.6"/><circle cx="2294.90" cy="573.50" r="3.6"/><circle cx="2310.95" cy="595.40" r="3.6"/><circle cx="2327.00" cy="585.10" r="3.6"/><circle cx="2343.05" cy="583.50" r="3.6"/><circle cx="2359.10" cy="591.60" r="3.6"/><circle cx="2375.15" cy="596.70" r="3.6"/><circle cx="2391.20" cy="601.90" r="3.6"/><circle cx="2407.25" cy="603.50" r="3.6"/><circle cx="2423.30" cy="633.20" r="3.6"/><circle cx="2439.35" cy="632.70" r="3.6"/><circle cx="2455.40" cy="640.10" r="3.6"/><circle cx="2471.45" cy="636.90" r="3.6"/><circle cx="2487.50" cy="609.00" r="3.6"/><circle cx="2503.55" cy="599.80" r="3.6"/><circle cx="2519.60" cy="593.60" r="3.6"/><circle cx="2535.65" cy="588.20" r="3.6"/><circle cx="2551.70" cy="574.20" r="3.6"/><circle cx="2567.75" cy="552.90" r="3.6"/><circle cx="2583.80" cy="555.30" r="3.6"/><circle cx="2599.85" cy="566.70" r="3.6"/><circle cx="2615.90" cy="588.20" r="3.6"/><circle cx="2631.95" cy="580.00" r="3.6"/><circle cx="2648.00" cy="567.60" r="3.6"/><circle cx="2664.05" cy="287.20" r="3.6"/><circle cx="2680.10" cy="493.30" r="3.6"/><circle cx="2696.15" cy="527.00" r="3.6"/><circle cx="2712.20" cy="506.50" r="3.6"/><circle cx="2728.25" cy="507.10" r="3.6"/><circle cx="2744.30" cy="525.80" r="3.6"/><circle cx="2760.35" cy="516.70" r="3.6"/><circle cx="2776.40" cy="524.30" r="3.6"/><circle cx="2792.45" cy="530.50" r="3.6"/><circle cx="2808.50" cy="551.20" r="3.6"/><circle cx="2824.55" cy="568.20" r="3.6"/><circle cx="2840.60" cy="554.00" r="3.6"/><circle cx="2856.65" cy="607.30" r="3.6"/></g>
<rect x="747.0" y="974.00" width="909.5" height="1.8" fill="#c9c9c9"/>
<rect x="737" y="973.90" width="10" height="2" fill="#000"/>
<rect x="747.0" y="1034.50" width="909.5" height="1.8" fill="#c9c9c9"/>
<rect x="737" y="1034.40" width="10" height="2" fill="#000"/>
<rect x="747.0" y="1095.00" width="909.5" height="1.8" fill="#c9c9c9"/>
<rect x="737" y="1094.90" width="10" height="2" fill="#000"/>
<rect x="747.0" y="1155.50" width="909.5" height="1.8" fill="#c9c9c9"/>
<rect x="737" y="1155.40" width="10" height="2" fill="#000"/>
<rect x="747.0" y="1216.00" width="909.5" height="1.8" fill="#c9c9c9"/>
<rect x="737" y="1215.90" width="10" height="2" fill="#000"/>
<rect x="747.0" y="1276.50" width="909.5" height="1.8" fill="#c9c9c9"/>
<rect x="737" y="1276.40" width="10" height="2" fill="#000"/>
<rect x="747.0" y="1337.00" width="909.5" height="1.8" fill="#c9c9c9"/>
<rect x="737" y="1336.90" width="10" height="2" fill="#000"/>
<rect x="747.0" y="1397.50" width="909.5" height="1.8" fill="#c9c9c9"/>
<rect x="737" y="1397.40" width="10" height="2" fill="#000"/>
<rect x="747.0" y="1458.00" width="909.5" height="1.8" fill="#c9c9c9"/>
<rect x="737" y="1457.90" width="10" height="2" fill="#000"/>
<rect x="747.0" y="1518.50" width="909.5" height="1.8" fill="#c9c9c9"/>
<rect x="737" y="1518.40" width="10" height="2" fill="#000"/>
<rect x="747.0" y="1579.00" width="909.5" height="1.8" fill="#c9c9c9"/>
<rect x="737" y="1578.90" width="10" height="2" fill="#000"/>
<rect x="746.10" y="974.90" width="1.8" height="605.00" fill="#c9c9c9"/>
<rect x="746.00" y="1579.90" width="2" height="9" fill="#000"/>
<text transform="translate(747.00,1609.60) scale(1,1.042)" font-size="24" fill="#000" text-anchor="middle">0</text>
<rect x="928.00" y="974.90" width="1.8" height="605.00" fill="#c9c9c9"/>
<rect x="927.90" y="1579.90" width="2" height="9" fill="#000"/>
<text transform="translate(928.90,1609.60) scale(1,1.042)" font-size="24" fill="#000" text-anchor="middle">5k</text>
<rect x="1109.90" y="974.90" width="1.8" height="605.00" fill="#c9c9c9"/>
<rect x="1109.80" y="1579.90" width="2" height="9" fill="#000"/>
<text transform="translate(1110.80,1609.60) scale(1,1.042)" font-size="24" fill="#000" text-anchor="middle">10k</text>
<rect x="1291.80" y="974.90" width="1.8" height="605.00" fill="#c9c9c9"/>
<rect x="1291.70" y="1579.90" width="2" height="9" fill="#000"/>
<text transform="translate(1292.70,1609.60) scale(1,1.042)" font-size="24" fill="#000" text-anchor="middle">15k</text>
<rect x="1473.70" y="974.90" width="1.8" height="605.00" fill="#c9c9c9"/>
<rect x="1473.60" y="1579.90" width="2" height="9" fill="#000"/>
<text transform="translate(1474.60,1609.60) scale(1,1.042)" font-size="24" fill="#000" text-anchor="middle">20k</text>
<rect x="1655.60" y="974.90" width="1.8" height="605.00" fill="#c9c9c9"/>
<rect x="1655.50" y="1579.90" width="2" height="9" fill="#000"/>
<text transform="translate(1656.50,1609.60) scale(1,1.042)" font-size="24" fill="#000" text-anchor="middle">25k</text>
<rect x="747.0" y="980.50" width="815.38" height="48.4" fill="#6c247c"/>
<text transform="translate(730.50,1011.85) scale(1,1.042)" font-size="24" fill="#000" text-anchor="end">LAMAR</text>
<text transform="translate(1154.69,1011.85) scale(1,1.042)" font-size="24" fill="#fff" font-weight="bold" text-anchor="middle">22,413</text>
<rect x="747.0" y="1041.00" width="557.20" height="48.4" fill="#412a85"/>
<text transform="translate(730.50,1072.35) scale(1,1.042)" font-size="24" fill="#000" text-anchor="end">CONGRESS</text>
<text transform="translate(1025.60,1072.35) scale(1,1.042)" font-size="24" fill="#fff" font-weight="bold" text-anchor="middle">15,316</text>
<rect x="747.0" y="1101.50" width="541.77" height="48.4" fill="#4657a4"/>
<text transform="translate(730.50,1132.85) scale(1,1.042)" font-size="24" fill="#000" text-anchor="end">6TH</text>
<text transform="translate(1017.89,1132.85) scale(1,1.042)" font-size="24" fill="#fff" font-weight="bold" text-anchor="middle">14,892</text>
<rect x="747.0" y="1162.00" width="430.23" height="48.4" fill="#5383be"/>
<text transform="translate(730.50,1193.35) scale(1,1.042)" font-size="24" fill="#000" text-anchor="end">CESAR CHAVEZ</text>
<text transform="translate(962.11,1193.35) scale(1,1.042)" font-size="24" fill="#fff" font-weight="bold" text-anchor="middle">11,826</text>
<rect x="747.0" y="1222.50" width="429.47" height="48.4" fill="#6aa2ad"/>
<text transform="translate(730.50,1253.85) scale(1,1.042)" font-size="24" fill="#000" text-anchor="end">RIVERSIDE</text>
<text transform="translate(961.73,1253.85) scale(1,1.042)" font-size="24" fill="#000" font-weight="bold" text-anchor="middle">11,805</text>
<rect x="747.0" y="1283.00" width="400.43" height="48.4" fill="#82b386"/>
<text transform="translate(730.50,1314.35) scale(1,1.042)" font-size="24" fill="#000" text-anchor="end">IH 35 SVRD</text>
<text transform="translate(947.22,1314.35) scale(1,1.042)" font-size="24" fill="#000" font-weight="bold" text-anchor="middle">11,007</text>
<rect x="747.0" y="1343.50" width="397.82" height="48.4" fill="#9dbb69"/>
<text transform="translate(730.50,1374.85) scale(1,1.042)" font-size="24" fill="#000" text-anchor="end">RUTHERFORD</text>
<text transform="translate(945.91,1374.85) scale(1,1.042)" font-size="24" fill="#000" font-weight="bold" text-anchor="middle">10,935</text>
<rect x="747.0" y="1404.00" width="339.46" height="48.4" fill="#b9c060"/>
<text transform="translate(730.50,1435.35) scale(1,1.042)" font-size="24" fill="#000" text-anchor="end">1ST</text>
<text transform="translate(916.73,1435.35) scale(1,1.042)" font-size="24" fill="#000" font-weight="bold" text-anchor="middle">9,331</text>
<rect x="747.0" y="1464.50" width="323.78" height="48.4" fill="#d4b356"/>
<text transform="translate(730.50,1495.85) scale(1,1.042)" font-size="24" fill="#000" text-anchor="end">5TH</text>
<text transform="translate(908.89,1495.85) scale(1,1.042)" font-size="24" fill="#000" font-weight="bold" text-anchor="middle">8,900</text>
<rect x="747.0" y="1525.00" width="306.61" height="48.4" fill="#db964a"/>
<text transform="translate(730.50,1556.35) scale(1,1.042)" font-size="24" fill="#000" text-anchor="end">GUADALUPE</text>
<text transform="translate(900.31,1556.35) scale(1,1.042)" font-size="24" fill="#000" font-weight="bold" text-anchor="middle">8,428</text>
<rect x="746.0" y="973.90" width="2" height="607.00" fill="#000"/>
<rect x="746.0" y="1578.90" width="911.50" height="2" fill="#000"/>
<text transform="translate(713.13,929.70) scale(1,1.042)" font-size="24" fill="#000" font-weight="bold">Street</text>
<text transform="translate(1201.50,1650.00) scale(1,1.042)" font-size="24" fill="#000" font-weight="bold" text-anchor="middle">Calls</text>
<defs><clipPath id="tclip"><rect x="4.7" y="854.7" width="474.1" height="818.0999999999999" rx="4"/></clipPath></defs>
<g clip-path="url(#tclip)">
<rect x="4.7" y="854.7" width="474.1" height="65.79999999999995" fill="#f4f6f6"/>
<rect x="4.7" y="920.5" width="474.1" height="56.13" fill="#ffffff"/>
<rect x="4.7" y="976.1" width="463.1" height="2" fill="#d3d8db"/>
<rect x="31.2" y="934.0" width="29.4" height="29.4" rx="5" fill="none" stroke="#7f8c8d" stroke-width="2"/>
<text x="86" y="957.5" font-size="25.3" letter-spacing="0.55" fill="#000">78704</text>
<text x="443.5" y="957.5" font-size="25.4" letter-spacing="-0.2" text-anchor="end" fill="#000">125,531</text>
<rect x="4.7" y="976.6" width="474.1" height="56.13" fill="#fafbfd"/>
<rect x="4.7" y="1032.3" width="463.1" height="2" fill="#d3d8db"/>
<rect x="31.2" y="990.1" width="29.4" height="29.4" rx="5" fill="none" stroke="#7f8c8d" stroke-width="2"/>
<text x="86" y="1013.6" font-size="25.3" letter-spacing="0.55" fill="#000">78745</text>
<text x="443.5" y="1013.6" font-size="25.4" letter-spacing="-0.2" text-anchor="end" fill="#000">115,052</text>
<rect x="4.7" y="1032.8" width="474.1" height="56.13" fill="#ffffff"/>
<rect x="4.7" y="1088.4" width="463.1" height="2" fill="#d3d8db"/>
<rect x="31.2" y="1046.2" width="29.4" height="29.4" rx="5" fill="none" stroke="#7f8c8d" stroke-width="2"/>
<text x="86" y="1069.7" font-size="25.3" letter-spacing="0.55" fill="#000">78702</text>
<text x="443.5" y="1069.7" font-size="25.4" letter-spacing="-0.2" text-anchor="end" fill="#000">103,964</text>
<rect x="4.7" y="1088.9" width="474.1" height="56.13" fill="#fafbfd"/>
<rect x="4.7" y="1144.5" width="463.1" height="2" fill="#d3d8db"/>
<rect x="31.2" y="1102.4" width="29.4" height="29.4" rx="5" fill="none" stroke="#7f8c8d" stroke-width="2"/>
<text x="86" y="1125.9" font-size="25.3" letter-spacing="0.55" fill="#000">78701</text>
<text x="443.5" y="1125.9" font-size="25.4" letter-spacing="-0.2" text-anchor="end" fill="#000">94,107</text>
<rect x="4.7" y="1145.0" width="474.1" height="56.13" fill="#ffffff"/>
<rect x="4.7" y="1200.7" width="463.1" height="2" fill="#d3d8db"/>
<rect x="31.2" y="1158.5" width="29.4" height="29.4" rx="5" fill="none" stroke="#7f8c8d" stroke-width="2"/>
<text x="86" y="1182.0" font-size="25.3" letter-spacing="0.55" fill="#000">78758</text>
<text x="443.5" y="1182.0" font-size="25.4" letter-spacing="-0.2" text-anchor="end" fill="#000">82,805</text>
<rect x="4.7" y="1201.2" width="474.1" height="56.13" fill="#fafbfd"/>
<rect x="4.7" y="1256.8" width="463.1" height="2" fill="#d3d8db"/>
<rect x="31.2" y="1214.6" width="29.4" height="29.4" rx="5" fill="none" stroke="#7f8c8d" stroke-width="2"/>
<text x="86" y="1238.1" font-size="25.3" letter-spacing="0.55" fill="#000">78744</text>
<text x="443.5" y="1238.1" font-size="25.4" letter-spacing="-0.2" text-anchor="end" fill="#000">82,686</text>
<rect x="4.7" y="1257.3" width="474.1" height="56.13" fill="#ffffff"/>
<rect x="4.7" y="1312.9" width="463.1" height="2" fill="#d3d8db"/>
<rect x="31.2" y="1270.7" width="29.4" height="29.4" rx="5" fill="none" stroke="#7f8c8d" stroke-width="2"/>
<text x="86" y="1294.2" font-size="25.3" letter-spacing="0.55" fill="#000">78723</text>
<text x="443.5" y="1294.2" font-size="25.4" letter-spacing="-0.2" text-anchor="end" fill="#000">77,046</text>
<rect x="4.7" y="1313.4" width="474.1" height="56.13" fill="#fafbfd"/>
<rect x="4.7" y="1369.0" width="463.1" height="2" fill="#d3d8db"/>
<rect x="31.2" y="1326.9" width="29.4" height="29.4" rx="5" fill="none" stroke="#7f8c8d" stroke-width="2"/>
<text x="86" y="1350.4" font-size="25.3" letter-spacing="0.55" fill="#000">78753</text>
<text x="443.5" y="1350.4" font-size="25.4" letter-spacing="-0.2" text-anchor="end" fill="#000">75,630</text>
<rect x="4.7" y="1369.5" width="474.1" height="56.13" fill="#ffffff"/>
<rect x="4.7" y="1425.2" width="463.1" height="2" fill="#d3d8db"/>
<rect x="31.2" y="1383.0" width="29.4" height="29.4" rx="5" fill="none" stroke="#7f8c8d" stroke-width="2"/>
<text x="86" y="1406.5" font-size="25.3" letter-spacing="0.55" fill="#000">78741</text>
<text x="443.5" y="1406.5" font-size="25.4" letter-spacing="-0.2" text-anchor="end" fill="#000">71,306</text>
<rect x="4.7" y="1425.7" width="474.1" height="56.13" fill="#fafbfd"/>
<rect x="4.7" y="1481.3" width="463.1" height="2" fill="#d3d8db"/>
<rect x="31.2" y="1439.1" width="29.4" height="29.4" rx="5" fill="none" stroke="#7f8c8d" stroke-width="2"/>
<text x="86" y="1462.6" font-size="25.3" letter-spacing="0.55" fill="#000">78748</text>
<text x="443.5" y="1462.6" font-size="25.4" letter-spacing="-0.2" text-anchor="end" fill="#000">66,661</text>
<rect x="4.7" y="1481.8" width="474.1" height="56.13" fill="#ffffff"/>
<rect x="4.7" y="1537.4" width="463.1" height="2" fill="#d3d8db"/>
<rect x="31.2" y="1495.3" width="29.4" height="29.4" rx="5" fill="none" stroke="#7f8c8d" stroke-width="2"/>
<text x="86" y="1518.8" font-size="25.3" letter-spacing="0.55" fill="#000">78703</text>
<text x="443.5" y="1518.8" font-size="25.4" letter-spacing="-0.2" text-anchor="end" fill="#000">60,929</text>
<rect x="4.7" y="1537.9" width="474.1" height="56.13" fill="#fafbfd"/>
<rect x="4.7" y="1593.6" width="463.1" height="2" fill="#d3d8db"/>
<rect x="31.2" y="1551.4" width="29.4" height="29.4" rx="5" fill="none" stroke="#7f8c8d" stroke-width="2"/>
<text x="86" y="1574.9" font-size="25.3" letter-spacing="0.55" fill="#000">78759</text>
<text x="443.5" y="1574.9" font-size="25.4" letter-spacing="-0.2" text-anchor="end" fill="#000">60,187</text>
<rect x="4.7" y="1594.1" width="474.1" height="56.13" fill="#ffffff"/>
<rect x="4.7" y="1649.7" width="463.1" height="2" fill="#d3d8db"/>
<rect x="31.2" y="1607.5" width="29.4" height="29.4" rx="5" fill="none" stroke="#7f8c8d" stroke-width="2"/>
<text x="86" y="1631.0" font-size="25.3" letter-spacing="0.55" fill="#000">78705</text>
<text x="443.5" y="1631.0" font-size="25.4" letter-spacing="-0.2" text-anchor="end" fill="#000">56,823</text>
<rect x="4.7" y="1650.2" width="474.1" height="56.13" fill="#fafbfd"/>
<rect x="4.7" y="1705.8" width="463.1" height="2" fill="#d3d8db"/>
<rect x="31.2" y="1663.7" width="29.4" height="29.4" rx="5" fill="none" stroke="#7f8c8d" stroke-width="2"/>
<text x="86" y="1687.2" font-size="25.3" letter-spacing="0.55" fill="#000">78757</text>
<text x="443.5" y="1687.2" font-size="25.4" letter-spacing="-0.2" text-anchor="end" fill="#000">55,744</text>
<rect x="467.8" y="920.5" width="9.8" height="752.3" fill="#ececee"/>
<rect x="468.4" y="921.4" width="9.6" height="142" rx="4.8" fill="#878787"/>
</g>
<text transform="translate(29.31,897.20) scale(1,1.042)" font-size="24.5" fill="#727b7b" font-weight="bold" letter-spacing="0.35">incident_zip</text>
<text transform="translate(443.80,897.20) scale(1,1.042)" font-size="24.4" fill="#727b7b" font-weight="bold" text-anchor="end">Calls</text>
<path d="M362,880.5 v15 M356,889.5 l6,6 l6,-6" stroke="#8a9494" stroke-width="2" fill="none"/>
<rect x="234.2" y="872" width="1.8" height="31.5" fill="#d2d7d9"/>
<rect x="465.8" y="872" width="1.8" height="31.5" fill="#d2d7d9"/>
<rect x="5.6000000000000005" y="855.6" width="472.3" height="816.3" rx="4" fill="none" stroke="#b9c1c4" stroke-width="1.8"/>
<g><text transform="translate(1743.20,875.80) scale(1,1.042)" font-size="20" fill="#42288a">SBO - Sidewalk Repair</text><text transform="translate(1980.02,881.30) scale(1,1.042)" font-size="22" fill="#4657a4">Sign - Traffic Sign Emergency</text><text transform="translate(1777.05,904.00) scale(1,1.042)" font-size="20" fill="#d6592c">Aquatics Hotline Inquiry</text><text transform="translate(2030.75,915.40) scale(1,1.042)" font-size="22" fill="#d4b154">Found Animal Report - Keep</text><text transform="translate(1753.42,932.00) scale(1,1.042)" font-size="20" fill="#d6592c">Street Resurfacing</text><text transform="translate(1762.40,953.50) scale(1,1.042)" font-size="20" fill="#9aba66">Guardrail Repair</text><text transform="translate(1950.25,945.60) scale(1,1.042)" font-size="24" fill="#5383be">Public Health - Graffiti Abatement</text><text transform="translate(1817.54,983.70) scale(1,1.042)" font-size="20" fill="#42288a">AW - Water Waste Report</text><text transform="translate(2090.53,989.30) scale(1,1.042)" font-size="24" fill="#4657a4">Water Waste Report</text><text transform="translate(1751.50,1021.60) scale(1,1.042)" font-size="22" fill="#9aba66">Animal Protection - Loose Dog</text><text transform="translate(2112.44,1025.10) scale(1,1.042)" font-size="24" fill="#c82a22">Code Compliance</text><text transform="translate(1775.32,1049.80) scale(1,1.042)" font-size="22" fill="#d6592c">AE Street Light Issue - Address</text><text transform="translate(2108.11,1057.90) scale(1,1.042)" font-size="28" fill="#c82a22">ARR - Garbage</text><text transform="translate(1828.52,1094.00) scale(1,1.042)" font-size="22" fill="#9aba66">Traffic Signal - Dig Tess Request</text><text transform="translate(2202.05,1095.00) scale(1,1.042)" font-size="28" fill="#d6592c">ARR Missed Yard Trimmings/Compost</text><text transform="translate(2387.55,884.10) scale(1,1.042)" font-size="20" fill="#b9c060">SBO - Pothole Repair</text><text transform="translate(2370.31,909.90) scale(1,1.042)" font-size="20" fill="#82b386">Mowing Medians</text><text transform="translate(2463.22,937.90) scale(1,1.042)" font-size="20" fill="#dd9649">ARR - General</text><text transform="translate(2393.47,967.40) scale(1,1.042)" font-size="22" fill="#42288a">Pavement Failure</text><text transform="translate(2372.87,999.40) scale(1,1.042)" font-size="22" fill="#dd9649">Shared Micromobility</text><text transform="translate(2407.99,1031.70) scale(1,1.042)" font-size="22" fill="#82b386">311 CC - Other</text><text transform="translate(2438.50,1060.00) scale(1,1.042)" font-size="22" fill="#66a1ac">Sidewalk Repair</text><text transform="translate(1829.28,1121.30) scale(1,1.042)" font-size="20" fill="#d6592c">Coyote Complaints</text><text transform="translate(2030.64,1126.90) scale(1,1.042)" font-size="32" fill="#b9c060">ARR - Storm Debris Collection</text><text transform="translate(1828.33,1159.10) scale(1,1.042)" font-size="34" fill="#66a1ac">Animal Control - Assistance Request</text><text transform="translate(2117.02,1202.00) scale(1,1.042)" font-size="46" fill="#42288a">Traffic Signal - Maintenance</text><text transform="translate(1971.84,1233.60) scale(1,1.042)" font-size="26" fill="#66a1ac">ATD - Shared Micromobility</text><text transform="translate(2091.09,1281.50) scale(1,1.042)" font-size="32" fill="#9aba66">ARR Dead Animal Collection</text><text transform="translate(2146.63,1308.50) scale(1,1.042)" font-size="24" fill="#d4b154">APD - Non Emergency Collision</text><text transform="translate(2517.73,1123.60) scale(1,1.042)" font-size="22" fill="#9aba66">Sign - New</text><text transform="translate(2414.86,1153.30) scale(1,1.042)" font-size="22" fill="#5383be">Found Animal - Pick Up</text><text transform="translate(2306.87,1239.60) scale(1,1.042)" font-size="22" fill="#c82a22">Animal Bite</text><text transform="translate(2101.45,1346.70) scale(1,1.042)" font-size="24" fill="#66a1ac">Sign - Traffic Sign Maintenance</text><text transform="translate(2099.27,1380.70) scale(1,1.042)" font-size="22" fill="#d6592c">Wildlife Exposure</text><text transform="translate(2286.64,1376.20) scale(1,1.042)" font-size="26" fill="#82b386">Tree Issue ROW</text><text transform="translate(2098.84,1413.50) scale(1,1.042)" font-size="24" fill="#82b386">ACD - Request Code Officer</text><text transform="translate(2092.79,1451.40) scale(1,1.042)" font-size="32" fill="#82b386">Injured / Sick Animal</text><text transform="translate(2163.20,1475.30) scale(1,1.042)" font-size="22" fill="#b9c060">Lane/Road Closure Notification</text><text transform="translate(2078.75,1503.10) scale(1,1.042)" font-size="28" fill="#6c247c">ATD - Parking Violation Enforcement</text><text transform="translate(2076.21,1540.90) scale(1,1.042)" font-size="22" fill="#b9c060">ARR Missed Yard Trimmings /Organics</text><text transform="translate(1842.79,1567.40) scale(1,1.042)" font-size="20" fill="#c82a22">Bat Complaint</text><text transform="translate(1991.78,1573.20) scale(1,1.042)" font-size="22" fill="#dd9649">Graffiti Abatement</text><text transform="translate(2206.36,1576.20) scale(1,1.042)" font-size="22" fill="#4657a4">Parking Machine Issue</text><text transform="translate(1799.67,1599.40) scale(1,1.042)" font-size="20" fill="#dd9649">Traffic Signal - New/Change</text><text transform="translate(2114.00,1607.00) scale(1,1.042)" font-size="22" fill="#c82a22">ARR - Dead Animal Collection</text><text transform="translate(1856.06,1629.20) scale(1,1.042)" font-size="20" fill="#d6592c">Dockless Mobility</text><text transform="translate(2047.84,1635.50) scale(1,1.042)" font-size="22" fill="#5383be">AW - Water Conservation Violation</text><text transform="translate(1731.76,1651.20) scale(1,1.042)" font-size="20" fill="#d4b154">DSD - Request Code Officer</text><text transform="translate(2443.39,1641.50) scale(1,1.042)" font-size="20" fill="#dd9649">Traffic Calming</text><text transform="translate(2634.98,1487.40) scale(1,1.042)" font-size="22" fill="#66a1ac">Loud Music</text><text transform="translate(2331.82,874.94) rotate(90) scale(1,1.042)" font-size="26" fill="#4657a4">ARR - Compost</text><text transform="translate(2611.40,869.37) rotate(90) scale(1,1.042)" font-size="22" fill="#42288a">Obstruction in ROW</text><text transform="translate(2650.01,914.34) rotate(90) scale(1,1.042)" font-size="20" fill="#6c247c">Bicycle Issues</text><text transform="translate(2678.01,868.85) rotate(90) scale(1,1.042)" font-size="20" fill="#82b386">Street Lights New</text><text transform="translate(2707.05,879.13) rotate(90) scale(1,1.042)" font-size="34" fill="#5383be">ARR Missed Recycling</text><text transform="translate(2749.76,867.91) rotate(90) scale(1,1.042)" font-size="32" fill="#d4b154">Street Light Issue- Address</text><text transform="translate(2783.91,1020.71) rotate(90) scale(1,1.042)" font-size="20" fill="#9aba66">ARR - Bulk</text><text transform="translate(2860.21,885.06) rotate(90) scale(1,1.042)" font-size="20" fill="#5383be">Tree Issue ROW/Emergency (PW)</text><text transform="translate(1771.51,1091.01) rotate(90) scale(1,1.042)" font-size="20" fill="#b9c060">Sign - Street Name</text><text transform="translate(1733.41,1214.92) rotate(90) scale(1,1.042)" font-size="20" fill="#82b386">Austin Code - Signs/Billboards</text><text transform="translate(1791.40,1241.49) rotate(90) scale(1,1.042)" font-size="22" fill="#6c247c">DSD - Follow-Up</text><text transform="translate(1826.00,1185.90) rotate(90) scale(1,1.042)" font-size="22" fill="#d4b154">Parking Violation Enforcement</text><text transform="translate(1859.89,1199.80) rotate(90) scale(1,1.042)" font-size="24" fill="#42288a">ARR Brush and Bulk</text><text transform="translate(1887.59,1181.96) rotate(90) scale(1,1.042)" font-size="24" fill="#dd9649">APD - Vehicle Abatement Report</text><text transform="translate(1923.39,1181.17) rotate(90) scale(1,1.042)" font-size="24" fill="#b9c060">Loud Commercial Music</text><text transform="translate(1971.29,1257.60) rotate(90) scale(1,1.042)" font-size="24" fill="#6c247c">Animal - Proper Care</text><text transform="translate(2029.31,1300.82) rotate(90) scale(1,1.042)" font-size="20" fill="#66a1ac">Loose Animal Not Dog</text><text transform="translate(2057.09,1299.50) rotate(90) scale(1,1.042)" font-size="24" fill="#b9c060">Debris in Street</text><text transform="translate(2519.73,1230.24) rotate(90) scale(1,1.042)" font-size="42" fill="#4657a4">Loose Dog</text><text transform="translate(2559.47,1225.70) rotate(90) scale(1,1.042)" font-size="30" fill="#dd9649">Park Maintenance - Grounds</text><text transform="translate(2595.79,1222.62) rotate(90) scale(1,1.042)" font-size="26" fill="#5383be">APD - Non Emergency Noise/Alarm</text><text transform="translate(2631.39,1278.42) rotate(90) scale(1,1.042)" font-size="24" fill="#d6592c">ARR - Recycling</text><text transform="translate(2669.50,1232.55) rotate(90) scale(1,1.042)" font-size="22" fill="#82b386">Concerns in the ROW</text><text transform="translate(2713.91,1249.05) rotate(90) scale(1,1.042)" font-size="20" fill="#c82a22">ARR Street Sweeping</text><text transform="translate(2741.61,1293.76) rotate(90) scale(1,1.042)" font-size="20" fill="#42288a">Animal In Vehicle</text><text transform="translate(2781.70,1163.37) rotate(90) scale(1,1.042)" font-size="22" fill="#6c247c">Austin Code - Short Term Rental Complaint SR</text><text transform="translate(2809.41,1311.28) rotate(90) scale(1,1.042)" font-size="20" fill="#42288a">Animal Services - Contact Request</text><text transform="translate(2841.21,1247.21) rotate(90) scale(1,1.042)" font-size="20" fill="#4657a4">Austin Code - Coronavirus</text><text transform="translate(1759.41,1320.10) rotate(90) scale(1,1.042)" font-size="20" fill="#d4b154">ATD - Traffic Sign Maintenance</text><text transform="translate(1793.51,1426.24) rotate(90) scale(1,1.042)" font-size="20" fill="#4657a4">Flooding - Past</text><text transform="translate(1999.38,1357.22) rotate(90) scale(1,1.042)" font-size="28" fill="#42288a">Pothole Repair</text><text transform="translate(2643.61,1502.25) rotate(90) scale(1,1.042)" font-size="20" fill="#42288a">ARR - Brush</text><text transform="translate(2673.61,1509.86) rotate(90) scale(1,1.042)" font-size="20" fill="#82b386">Standing Water</text><text transform="translate(2704.11,1498.45) rotate(90) scale(1,1.042)" font-size="20" fill="#4657a4">Bridge Repair</text></g>
<path d="M712.5,396 h3.5 v12 h-12 v-3.5 h8.5 z" fill="#b0b0b0"/>
<path d="M712.5,774 h3.5 v12 h-12 v-3.5 h8.5 z" fill="#b0b0b0"/>
<path d="M2884.5,773.5 h3.5 v12 h-12 v-3.5 h8.5 z" fill="#b0b0b0"/>
<path d="M470.0,1655 h3.5 v12 h-12 v-3.5 h8.5 z" fill="#b0b0b0"/>
<path d="M1674.8,1655.5 h3.5 v12 h-12 v-3.5 h8.5 z" fill="#b0b0b0"/>
<path d="M2884.5,1655.7 h3.5 v12 h-12 v-3.5 h8.5 z" fill="#b0b0b0"/>
</svg>
<div class="abs" style="left:2815px;top:82px;width:84px;height:1734px;background:linear-gradient(to right,rgba(0,0,0,0),rgba(0,0,0,0.085))"></div>
<div class="abs" style="left:2899px;top:0;width:5px;height:1816px;background:#151515;border-left:1px solid #2a2a2a"></div>
<div class="abs" style="left:2901px;top:0;width:1px;height:1816px;background:#6a6a6a"></div>
<div class="abs" style="left:2774px;top:1689.6px;width:80px;height:80px;border-radius:50%;background:#3873c8;box-shadow:0 3px 8px rgba(0,0,0,0.3)"></div>
<svg class="abs" style="left:0;top:0" width="2904" height="1816"><path transform="translate(2790,1706) scale(2)" fill="#fff" d="M19 3H5c-1.1 0-2 .9-2 2v14c0 1.1.9 2 2 2h14c1.1 0 2-.9 2-2V5c0-1.1-.9-2-2-2zM9 17H7v-7h2v7zm4 0h-2V7h2v10zm4 0h-2v-4h2v4z"/></svg>
<svg class="abs" style="left:0;top:0" width="2904" height="1816"><path d="M0,1796 A20,20 0 0 0 20,1816 L0,1816 Z" fill="#000"/><path d="M2904,1796 A20,20 0 0 1 2884,1816 L2904,1816 Z" fill="#000"/></svg>
</body></html>
